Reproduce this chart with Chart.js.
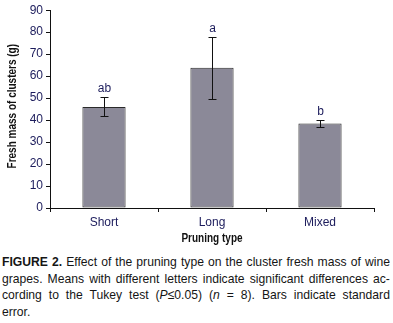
<!DOCTYPE html>
<html>
<head>
<meta charset="utf-8">
<script src="https://cdn.jsdelivr.net/npm/chart.js@4/dist/chart.umd.min.js"></script>
<style>
  html, body { margin: 0; padding: 0; background: #fff; }
  #wrap { position: relative; width: 393px; height: 248px; }
  #caption {
    position: absolute; left: 2px; top: 254px; width: 431px;
    transform: scaleX(0.9); transform-origin: 0 0;
    font-family: "Liberation Sans", Arial, sans-serif;
    font-size: 13.5px; line-height: 16.6px; color: #151515;
  }
  #caption div { text-align: justify; text-align-last: justify; white-space: nowrap; }
  #caption div.last { text-align-last: left; }
</style>
</head>
<body>
<div id="wrap"><canvas id="chart" width="393" height="248"></canvas></div>
<div id="caption">
  <div><b>FIGURE 2.</b> Effect of the pruning type on the cluster fresh mass of wine</div>
  <div>grapes. Means with different letters indicate significant differences ac-</div>
  <div>cording to the Tukey test (<i>P</i>&le;0.05) (<i>n</i> = 8). Bars indicate standard</div>
  <div class="last">error.</div>
</div>
<script>
const categories = ['Short', 'Long', 'Mixed'];
const means = [46, 63.8, 38.4];
const stdErrors = [4.3, 14, 1.6];
const letters = ['ab', 'a', 'b'];
const yTicks = [0, 10, 20, 30, 40, 50, 60, 70, 80, 90];
const xTitle = 'Pruning type';
const yTitle = 'Fresh mass of clusters (g)';

const fontName = '"Liberation Sans", Arial, sans-serif';
const navy = '#1c1c5c';

// error bars + significance letters
const errorBars = {
  id: 'errorBars',
  afterDatasetsDraw(chart) {
    const ctx = chart.ctx;
    const x = chart.scales.x, y = chart.scales.y;
    ctx.save();
    ctx.strokeStyle = '#111';
    ctx.lineWidth = 1;
    means.forEach((m, i) => {
      const px = Math.round(x.getPixelForValue(i)) + 0.5;
      const top = Math.round(y.getPixelForValue(m + stdErrors[i])) + 0.5;
      const bot = Math.round(y.getPixelForValue(m - stdErrors[i])) + 0.5;
      ctx.beginPath();
      ctx.moveTo(px, top); ctx.lineTo(px, bot);
      ctx.moveTo(px - 4, top); ctx.lineTo(px + 4, top);
      ctx.moveTo(px - 4, bot); ctx.lineTo(px + 4, bot);
      ctx.stroke();
      ctx.fillStyle = navy;
      ctx.font = '12px ' + fontName;
      ctx.textAlign = 'center';
      ctx.textBaseline = 'alphabetic';
      ctx.fillText(letters[i], px, top - 6);
    });
    ctx.restore();
  }
};

// narrow bold axis titles
const axisTitles = {
  id: 'axisTitles',
  afterDraw(chart) {
    const ctx = chart.ctx;
    const area = chart.chartArea;
    ctx.save();
    ctx.fillStyle = '#111';
    ctx.font = 'bold 12.5px ' + fontName;
    ctx.textAlign = 'center';
    ctx.textBaseline = 'middle';
    ctx.save();
    ctx.translate((area.left + area.right) / 2, 239);
    ctx.scale(0.8, 1);
    ctx.fillText(xTitle, 0, 0);
    ctx.restore();
    ctx.translate(12.5, area.top + 96);
    ctx.rotate(-Math.PI / 2);
    ctx.scale(0.8, 1);
    ctx.fillText(yTitle, 0, 0);
    ctx.restore();
  }
};

new Chart(document.getElementById('chart'), {
  type: 'bar',
  data: {
    labels: categories,
    datasets: [{
      data: means,
      backgroundColor: '#8b8998',
      borderColor: '#2a2a2a',
      borderWidth: 1,
      borderSkipped: false,
      barPercentage: 0.4,
      categoryPercentage: 1
    }]
  },
  options: {
    responsive: false,
    animation: false,
    layout: { padding: { left: 0, right: 19, top: 7, bottom: 0 } },
    plugins: { legend: { display: false }, tooltip: { enabled: false } },
    scales: {
      x: {
        grid: { offset: true, drawOnChartArea: false, drawTicks: true, tickLength: 4, color: '#111' },
        border: { color: '#111', width: 1 },
        ticks: { color: navy, font: { family: fontName, size: 12 }, padding: 3 },
        afterFit(scale) { scale.height = 40; }
      },
      y: {
        min: 0, max: 90,
        afterBuildTicks(scale) { scale.ticks = yTicks.map(v => ({ value: v })); },
        grid: { drawOnChartArea: false, drawTicks: true, tickLength: 4, color: '#111' },
        border: { color: '#111', width: 1 },
        ticks: { color: navy, font: { family: fontName, size: 12 }, padding: 3 },
        afterFit(scale) { scale.width = 50; }
      }
    }
  },
  plugins: [errorBars, axisTitles]
});
</script>
</body>
</html>
